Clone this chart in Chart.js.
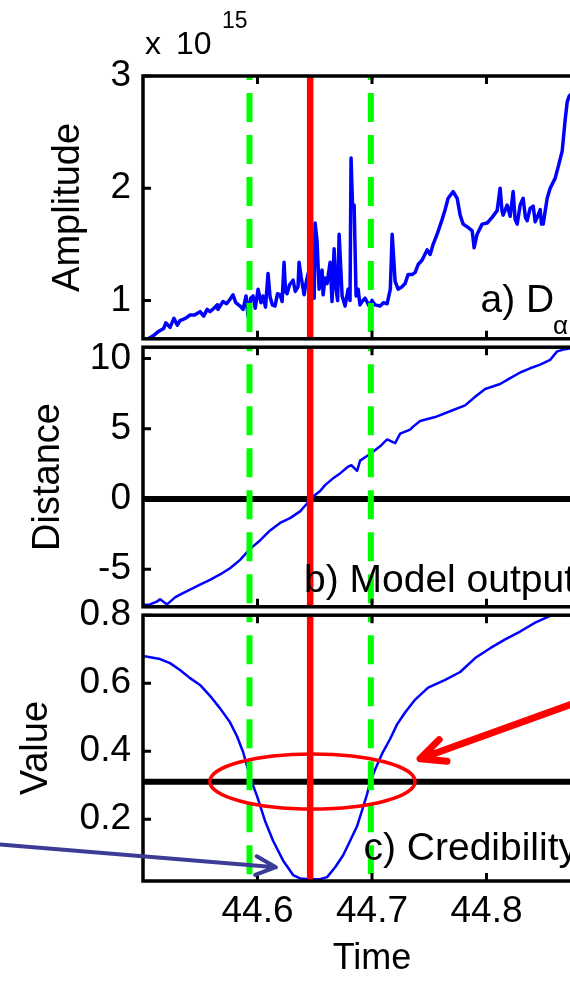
<!DOCTYPE html>
<html>
<head>
<meta charset="utf-8">
<script src="https://cdn.jsdelivr.net/npm/chart.js@4.4.1/dist/chart.umd.min.js"></script>
<style>
  html, body { margin: 0; padding: 0; background: #fff; overflow: hidden; width: 570px; height: 981px; }
  canvas { position: absolute; left: 0; }
</style>
</head>
<body>
<canvas id="ampChart" width="604" height="373" style="top:0px"></canvas>
<canvas id="distChart" width="604" height="328" style="top:313px"></canvas>
<canvas id="credChart" width="604" height="400" style="top:581px"></canvas>
<script>
const FONT = "'Liberation Sans', Arial, sans-serif";

// shared time axis
const timeRange = [44.5, 44.9];
const timeTicks = [44.6, 44.7, 44.8];

// detected instant and the window around it
const eventTime = 44.646;
const windowTimes = [44.593, 44.699];

// a) D_alpha amplitude (x 1e15)
const ampTime = [
  44.5050, 44.5096, 44.5131, 44.5180, 44.5200, 44.5236, 44.5270, 44.5300, 44.5323, 44.5370,
  44.5411, 44.5450, 44.5498, 44.5530, 44.5560, 44.5585, 44.5620, 44.5647, 44.5655, 44.5699,
  44.5730, 44.5760, 44.5786, 44.5810, 44.5848, 44.5874, 44.5900, 44.5917, 44.5940, 44.5961,
  44.5980, 44.6005, 44.6030, 44.6048, 44.6070, 44.6092, 44.6110, 44.6130, 44.6153, 44.6175,
  44.6197, 44.6215, 44.6232, 44.6245, 44.6258, 44.6280, 44.6311, 44.6330, 44.6354, 44.6363,
  44.6381, 44.6407, 44.6425, 44.6442, 44.6460, 44.6477, 44.6495, 44.6503, 44.6520, 44.6538,
  44.6564, 44.6573, 44.6590, 44.6608, 44.6634, 44.6651, 44.6669, 44.6686, 44.6700, 44.6713,
  44.6739, 44.6765, 44.6791, 44.6808, 44.6817, 44.6830, 44.6844, 44.6861, 44.6879, 44.6895,
  44.6913, 44.6940, 44.6975, 44.7000, 44.7027, 44.7071, 44.7100, 44.7132, 44.7160, 44.7176,
  44.7202, 44.7228, 44.7260, 44.7289, 44.7315, 44.7350, 44.7377, 44.7403, 44.7438, 44.7481,
  44.7508, 44.7534, 44.7569, 44.7612, 44.7639, 44.7665, 44.7709, 44.7744, 44.7770, 44.7796,
  44.7840, 44.7875, 44.7892, 44.7918, 44.7962, 44.8006, 44.8049, 44.8093, 44.8119, 44.8135,
  44.8145, 44.8180, 44.8207, 44.8233, 44.8250, 44.8268, 44.8294, 44.8320, 44.8340, 44.8355,
  44.8381, 44.8408, 44.8425, 44.8443, 44.8469, 44.8480, 44.8495, 44.8530, 44.8556, 44.8600,
  44.8626, 44.8661, 44.8687, 44.8705, 44.8722, 44.8750
];
const ampValue = [
  0.66, 0.69, 0.72, 0.75, 0.80, 0.76, 0.84, 0.78, 0.82, 0.84,
  0.87, 0.87, 0.90, 0.86, 0.92, 0.90, 0.93, 0.96, 0.92, 0.99,
  0.97, 1.01, 1.05, 0.98, 0.95, 0.92, 1.04, 0.86, 1.02, 1.04,
  0.93, 1.10, 0.98, 1.04, 0.94, 1.24, 1.03, 0.96, 0.95, 1.06,
  1.05, 0.99, 1.34, 1.08, 1.06, 1.14, 1.18, 1.08, 1.12, 1.34,
  1.21, 1.05, 1.16, 1.24, 1.02, 1.10, 1.02, 1.69, 1.53, 1.10,
  1.27, 1.05, 1.20, 1.15, 1.34, 0.99, 1.46, 1.10, 1.00, 1.59,
  1.04, 0.95, 1.10, 1.00, 2.27, 1.85, 1.85, 1.04, 1.10, 0.96,
  0.99, 1.02, 0.95, 1.00, 0.96, 0.95, 0.98, 0.97, 1.10, 1.59,
  1.17, 1.10, 1.12, 1.15, 1.23, 1.23, 1.25, 1.32, 1.36, 1.45,
  1.41, 1.50, 1.59, 1.72, 1.81, 1.91, 1.97, 1.91, 1.76, 1.68,
  1.65, 1.62, 1.47, 1.59, 1.68, 1.69, 1.74, 1.80, 2.00, 1.80,
  1.76, 1.85, 1.75, 1.97, 1.72, 1.68, 1.85, 1.91, 1.74, 1.71,
  1.82, 1.84, 1.70, 1.74, 1.81, 1.68, 1.68, 1.91, 2.00, 2.09,
  2.19, 2.33, 2.61, 2.77, 2.82, 2.85
];
const ampRange = [0.658, 3];
const ampTicks = [1, 2, 3];

// b) model output distance
const distTime = [
  44.5000, 44.5061, 44.5120, 44.5149, 44.5210, 44.5280, 44.5323, 44.5411, 44.5498, 44.5585,
  44.5673, 44.5760, 44.5848, 44.5935, 44.6022, 44.6110, 44.6197, 44.6284, 44.6372, 44.6433,
  44.6459, 44.6547, 44.6590, 44.6660, 44.6721, 44.6791, 44.6820, 44.6870, 44.6896, 44.6983,
  44.7071, 44.7132, 44.7202, 44.7246, 44.7333, 44.7359, 44.7420, 44.7551, 44.7682, 44.7813,
  44.7901, 44.7988, 44.8119, 44.8207, 44.8294, 44.8338, 44.8381, 44.8469, 44.8556, 44.8617,
  44.8687, 44.8750
];
const distValue = [
  -7.55, -7.50, -7.30, -7.14, -7.50, -7.00, -6.80, -6.45, -6.10, -5.76,
  -5.37, -4.93, -4.33, -3.55, -2.95, -2.24, -1.70, -1.36, -0.88, -0.32,
   0.00,  0.57,  0.99,  1.47,  1.82,  2.30,  2.40,  2.00,  2.73,  3.20,
   3.75,  4.24,  3.97,  4.65,  4.93,  5.15,  5.55,  5.83,  6.24,  6.66,
   7.27,  7.83,  8.18,  8.60,  9.00,  9.15,  9.30,  9.56,  9.90, 10.50,
  10.66, 10.75
];
const distRange = [-7.67, 10.8];
const distTicks = [-5, 0, 5, 10];
const distLevel = 0;

// c) credibility
const credTime = [
  44.5000, 44.5149, 44.5236, 44.5323, 44.5411, 44.5498, 44.5585, 44.5673, 44.5760, 44.5821,
  44.5874, 44.5917, 44.5952, 44.5996, 44.6066, 44.6136, 44.6223, 44.6311, 44.6372, 44.6459,
  44.6547, 44.6608, 44.6678, 44.6748, 44.6809, 44.6870, 44.6922, 44.6957, 44.6983, 44.7027,
  44.7088, 44.7158, 44.7219, 44.7289, 44.7377, 44.7490, 44.7639, 44.7770, 44.7901, 44.8032,
  44.8163, 44.8294, 44.8425, 44.8556, 44.8650
];
const credValue = [
  0.680, 0.671, 0.659, 0.639, 0.615, 0.595, 0.563, 0.526, 0.485, 0.444,
  0.398, 0.346, 0.308, 0.268, 0.195, 0.137, 0.079, 0.036, 0.026, 0.024,
  0.024, 0.030, 0.059, 0.094, 0.137, 0.180, 0.236, 0.274, 0.308, 0.346,
  0.393, 0.436, 0.479, 0.514, 0.552, 0.587, 0.610, 0.633, 0.674, 0.703,
  0.729, 0.752, 0.778, 0.798, 0.810
];
const credRange = [0.0185, 0.8];
const credTicks = [0.2, 0.4, 0.6, 0.8];
const credLevel = 0.31;

// markup on the credibility panel (time, value)
const credEllipse = { t: 44.648, v: 0.311, dt: 0.0896, dv: 0.081 };
const redArrow = { from: [44.917, 0.590], to: [44.742, 0.378] };
const blueArrow = { from: [44.371, 0.127], to: [44.616, 0.059] };

const pts = (xs, ys) => xs.map((x, i) => ({ x, y: ys[i] }));

function seg(data, color, width) {
  return {
    data, showLine: true, borderColor: color, borderWidth: width,
    pointRadius: 0, borderJoinStyle: 'round', fill: false
  };
}

// box, inward ticks on all sides
const framePlugin = {
  id: 'frame',
  afterDatasetsDraw(chart) {
    const { ctx, chartArea: a, scales: { x, y } } = chart;
    ctx.save();
    ctx.strokeStyle = '#000';
    ctx.lineWidth = 3.5;
    ctx.strokeRect(a.left, a.top, a.right - a.left, a.bottom - a.top);
    ctx.lineWidth = 3;
    ctx.beginPath();
    x.ticks.forEach(t => {
      const px = x.getPixelForValue(t.value);
      ctx.moveTo(px, a.top); ctx.lineTo(px, a.top + 8);
      ctx.moveTo(px, a.bottom); ctx.lineTo(px, a.bottom - 8);
    });
    y.ticks.forEach(t => {
      const py = y.getPixelForValue(t.value);
      ctx.moveTo(a.left, py); ctx.lineTo(a.left + 8, py);
      ctx.moveTo(a.right, py); ctx.lineTo(a.right - 8, py);
    });
    ctx.stroke();
    ctx.restore();
  }
};

// free text, given in page coordinates
const textPlugin = {
  id: 'panelText',
  afterDraw(chart, args, opts) {
    const ctx = chart.ctx;
    ctx.save();
    ctx.fillStyle = '#000';
    ctx.textBaseline = 'alphabetic';
    (opts.items || []).forEach(it => {
      ctx.font = it.size + 'px ' + FONT;
      ctx.fillText(it.text, it.x, it.y - opts.top);
    });
    ctx.restore();
  }
};

function arrow(ctx, x, y, a, color, width, head) {
  const x0 = x.getPixelForValue(a.from[0]), y0 = y.getPixelForValue(a.from[1]);
  const x1 = x.getPixelForValue(a.to[0]), y1 = y.getPixelForValue(a.to[1]);
  const ang = Math.atan2(y0 - y1, x0 - x1);
  ctx.strokeStyle = color;
  ctx.lineWidth = width;
  ctx.lineCap = 'round';
  ctx.lineJoin = 'round';
  ctx.beginPath();
  ctx.moveTo(x0, y0);
  ctx.lineTo(x1, y1);
  ctx.moveTo(x1 + head * Math.cos(ang - 0.44), y1 + head * Math.sin(ang - 0.44));
  ctx.lineTo(x1, y1);
  ctx.lineTo(x1 + head * Math.cos(ang + 0.44), y1 + head * Math.sin(ang + 0.44));
  ctx.stroke();
}

const markupPlugin = {
  id: 'markup',
  afterDraw(chart, args, opts) {
    if (!opts.enabled) return;
    const { ctx, scales: { x, y } } = chart;
    const cx = x.getPixelForValue(credEllipse.t), cy = y.getPixelForValue(credEllipse.v);
    const rx = Math.abs(x.getPixelForValue(credEllipse.t + credEllipse.dt) - cx);
    const ry = Math.abs(y.getPixelForValue(credEllipse.v + credEllipse.dv) - cy);
    ctx.save();
    ctx.strokeStyle = '#ff0000';
    ctx.lineWidth = 3.5;
    ctx.beginPath();
    ctx.ellipse(cx, cy, rx, ry, 0, 0, 2 * Math.PI);
    ctx.stroke();
    arrow(ctx, x, y, redArrow, '#ff0000', 7, 27);
    arrow(ctx, x, y, blueArrow, 'rgb(60,60,150)', 4, 22);
    ctx.restore();
  }
};

function makePanel(id, p) {
  const [lo, hi] = p.range;
  const datasets = [];
  datasets.push(seg([{ x: eventTime, y: hi }, { x: eventTime, y: lo }], '#ff0000', 6.5));
  windowTimes.forEach(t => {
    const d = seg([{ x: t, y: hi }, { x: t, y: lo }], '#00ff00', 6);
    d.borderDash = [29, 13];
    d.borderDashOffset = p.dashOffset;
    datasets.push(d);
  });
  datasets.push(seg(pts(p.time, p.value), '#0000ff', p.lineWidth));
  if (p.level !== undefined) {
    datasets.push(seg([{ x: timeRange[0], y: p.level }, { x: timeRange[1], y: p.level }], '#000000', 6));
  }

  return new Chart(document.getElementById(id), {
    type: 'scatter',
    data: { datasets },
    plugins: [framePlugin, textPlugin, markupPlugin],
    options: {
      responsive: false,
      animation: false,
      events: [],
      layout: { padding: { left: 0, right: 3, top: p.padTop, bottom: p.padBottom } },
      plugins: {
        legend: { display: false },
        tooltip: { enabled: false },
        panelText: { top: p.top, items: p.text },
        markup: { enabled: !!p.markup }
      },
      scales: {
        x: {
          type: 'linear',
          min: timeRange[0],
          max: timeRange[1],
          display: p.showTime,
          afterBuildTicks: s => { s.ticks = timeTicks.map(value => ({ value })); },
          afterFit: s => { if (p.showTime) s.height = 100; },
          grid: { display: false, drawTicks: false },
          border: { display: false },
          ticks: {
            color: '#000', font: { family: FONT, size: 37 }, padding: 9,
            maxRotation: 0, autoSkip: false, callback: v => v.toFixed(1)
          },
          title: { display: true, text: 'Time', color: '#000', font: { family: FONT, size: 36 }, padding: 0 }
        },
        y: {
          type: 'linear',
          min: lo,
          max: hi,
          afterBuildTicks: s => { s.ticks = p.ticks.map(value => ({ value })); },
          afterFit: s => { s.width = 143; },
          grid: { display: false, drawTicks: false },
          border: { display: false },
          ticks: {
            color: '#000', font: { family: FONT, size: 37 }, padding: 12,
            autoSkip: false, callback: p.fmt
          },
          title: {
            display: true, text: p.title, color: '#000',
            font: { family: FONT, size: 38 }, padding: { top: p.titlePad, bottom: 0 }
          }
        }
      }
    }
  });
}

makePanel('ampChart', {
  time: ampTime, value: ampValue, range: ampRange, ticks: ampTicks,
  fmt: v => String(v), title: 'Amplitude', titlePad: 46, lineWidth: 3.5,
  dashOffset: 25, top: 0, padTop: 76, padBottom: 30, showTime: false,
  text: [
    { text: 'x', x: 145, y: 53.5, size: 32 },
    { text: '10', x: 176, y: 53.5, size: 32 },
    { text: '15', x: 222, y: 28, size: 23 },
    { text: 'a) D', x: 480.5, y: 311.7, size: 39 },
    { text: 'α', x: 553, y: 334, size: 26 }
  ]
});

makePanel('distChart', {
  time: distTime, value: distValue, range: distRange, ticks: distTicks, level: distLevel,
  fmt: v => String(v), title: 'Distance', titlePad: 26, lineWidth: 2.5,
  dashOffset: 25, top: 313, padTop: 30, padBottom: 30, showTime: false,
  text: [
    { text: 'b) Model output', x: 304, y: 591.7, size: 39 }
  ]
});

makePanel('credChart', {
  time: credTime, value: credValue, range: credRange, ticks: credTicks, level: credLevel,
  fmt: v => v.toFixed(1), title: 'Value', titlePad: 14, lineWidth: 2.5,
  dashOffset: 22, top: 581, padTop: 30, padBottom: 0, showTime: true, markup: true,
  text: [
    { text: 'c) Credibility', x: 363.5, y: 860, size: 39 }
  ]
});
</script>
</body>
</html>
